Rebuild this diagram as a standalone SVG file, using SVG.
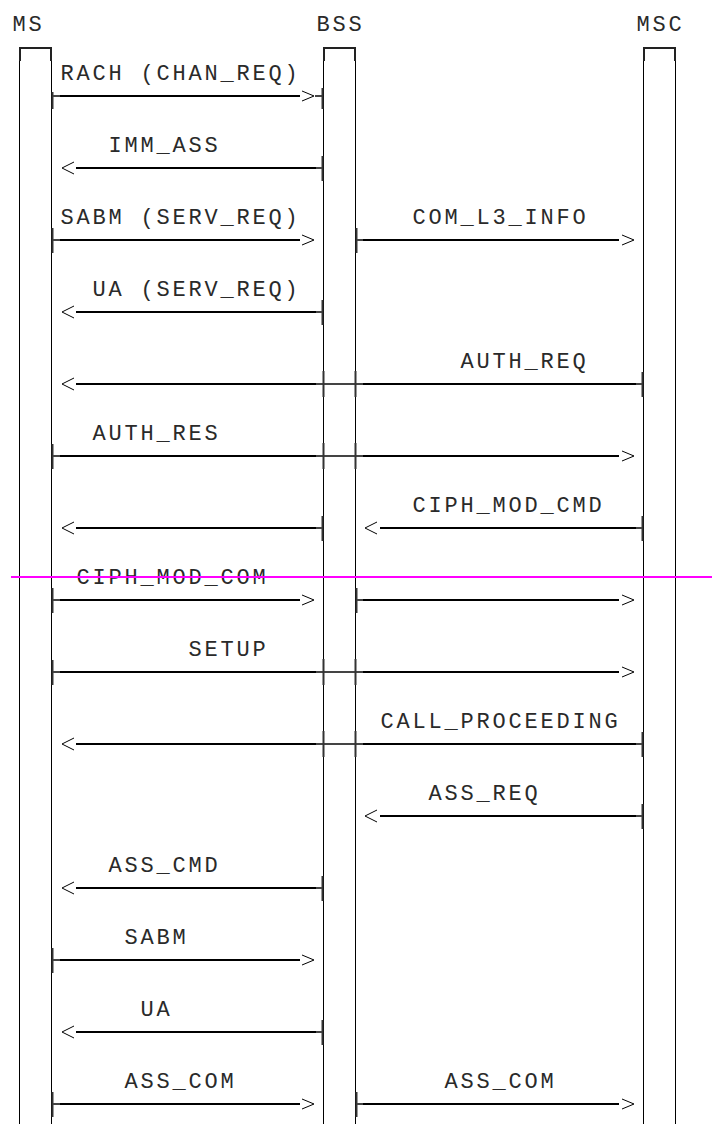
<svg xmlns="http://www.w3.org/2000/svg" xmlns:xlink="http://www.w3.org/1999/xlink" width="712" height="1124" viewBox="0 0 712 1124">
<style>
.life{stroke:#000;stroke-width:1;fill:none}
.top{stroke:#222;stroke-width:2;fill:none}
.th{stroke:#000;stroke-width:2;fill:none}
.st{stroke:#444;stroke-width:2;fill:none}
.tk{stroke:#333;stroke-width:2;fill:none}
.hd{stroke:#000;stroke-width:1;fill:none}
.lb{font-family:"Liberation Mono","DejaVu Sans Mono",monospace;font-size:22px;letter-spacing:2.8px;fill:#2a2a2a}
.mark{stroke:#f0f;stroke-width:2;fill:none}
</style>
<defs>
<path id="ar" class="hd" d="M-12,-5L0,0L-12,5"/>
<path id="al" class="hd" d="M12,-6L0,0L12,6"/>
<path id="tk" class="tk" d="M0,-12V13"/>
<path id="xk" class="tk" d="M0,-13V13"/>
<g id="mb"><use xlink:href="#tk" x="52.5"/><path class="st" d="M53,0H60"/><path class="th" d="M60,0H300"/><use xlink:href="#ar" x="314"/></g>
<g id="bm"><use xlink:href="#tk" x="322.5"/><path class="st" d="M316,0H322"/><path class="th" d="M76,0H316"/><use xlink:href="#al" x="62"/></g>
<g id="bc"><use xlink:href="#tk" x="356.5"/><path class="st" d="M357,0H363"/><path class="th" d="M363,0H619"/><use xlink:href="#ar" x="634"/></g>
<g id="cb"><use xlink:href="#tk" x="642.5"/><path class="st" d="M636,0H642"/><path class="th" d="M380,0H636"/><use xlink:href="#al" x="365"/></g>
<g id="mc"><use xlink:href="#tk" x="52.5"/><path class="st" d="M53,0H60M316,0H363"/><path class="th" d="M60,0H316M363,0H619"/><use xlink:href="#xk" x="323.5"/><use xlink:href="#xk" x="355.5"/><use xlink:href="#ar" x="634"/></g>
<g id="cm"><use xlink:href="#tk" x="642.5"/><path class="st" d="M636,0H642M316,0H363"/><path class="th" d="M363,0H636M76,0H316"/><use xlink:href="#xk" x="323.5"/><use xlink:href="#xk" x="355.5"/><use xlink:href="#al" x="62"/></g>
</defs>
<rect width="712" height="1124" fill="#fff"/>
<g id="ms">
<text class="lb" x="12.5" y="31">MS</text>
<path class="life" d="M19.5,48V1124M51.5,48V1124"/>
<path class="top" d="M20,61V48H51V61"/>
</g>
<g id="bss">
<text class="lb" x="316.5" y="31">BSS</text>
<path class="life" d="M323.5,48V1124M355.5,48V1124"/>
<path class="top" d="M324,61V48H355V61"/>
</g>
<g id="msc">
<text class="lb" x="636.5" y="31">MSC</text>
<path class="life" d="M643.5,48V1124M675.5,48V1124"/>
<path class="top" d="M644,61V48H675V61"/>
</g>
<g id="connectors">
<g transform="translate(0,96)">
<path class="tk" d="M52.5,-4V13"/><path class="st" d="M53,0H60M315,0H322"/><path class="th" d="M60,0H300"/><use xlink:href="#ar" x="314"/><path class="tk" d="M322.5,-8V13"/>
<text class="lb" x="60.5" y="-16">RACH (CHAN_REQ)</text>
</g>
<g transform="translate(0,168)"><use xlink:href="#bm"/><text class="lb" x="108.5" y="-16">IMM_ASS</text></g>
<g transform="translate(0,240)"><use xlink:href="#mb"/><text class="lb" x="60.5" y="-16">SABM (SERV_REQ)</text><use xlink:href="#bc"/><text class="lb" x="412.5" y="-16">COM_L3_INFO</text></g>
<g transform="translate(0,312)"><use xlink:href="#bm"/><text class="lb" x="92.5" y="-16">UA (SERV_REQ)</text></g>
<g transform="translate(0,384)"><use xlink:href="#cm"/><text class="lb" x="460.5" y="-16">AUTH_REQ</text></g>
<g transform="translate(0,456)"><use xlink:href="#mc"/><text class="lb" x="92.5" y="-16">AUTH_RES</text></g>
<g transform="translate(0,528)"><use xlink:href="#bm"/><use xlink:href="#cb"/><text class="lb" x="412.5" y="-16">CIPH_MOD_CMD</text></g>
<g transform="translate(0,600)"><use xlink:href="#mb"/><text class="lb" x="76.5" y="-16">CIPH_MOD_COM</text><use xlink:href="#bc"/></g>
<g transform="translate(0,672)"><use xlink:href="#mc"/><text class="lb" x="188.5" y="-16">SETUP</text></g>
<g transform="translate(0,744)"><use xlink:href="#cm"/><text class="lb" x="380.5" y="-16">CALL_PROCEEDING</text></g>
<g transform="translate(0,816)"><use xlink:href="#cb"/><text class="lb" x="428.5" y="-16">ASS_REQ</text></g>
<g transform="translate(0,888)"><use xlink:href="#bm"/><text class="lb" x="108.5" y="-16">ASS_CMD</text></g>
<g transform="translate(0,960)"><use xlink:href="#mb"/><text class="lb" x="124.5" y="-16">SABM</text></g>
<g transform="translate(0,1032)"><use xlink:href="#bm"/><text class="lb" x="140.5" y="-16">UA</text></g>
<g transform="translate(0,1104)"><use xlink:href="#mb"/><text class="lb" x="124.5" y="-16">ASS_COM</text><use xlink:href="#bc"/><text class="lb" x="444.5" y="-16">ASS_COM</text></g>
</g>
<path class="mark" d="M11,577H712"/>
</svg>
